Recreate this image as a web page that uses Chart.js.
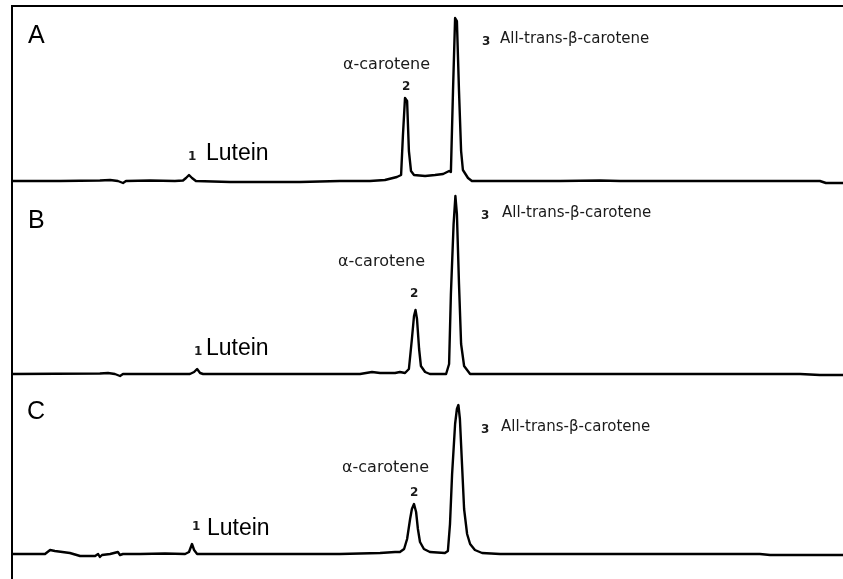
<!DOCTYPE html>
<html>
<head>
<meta charset="utf-8">
<script src="https://cdn.jsdelivr.net/npm/chart.js@4.4.1/dist/chart.umd.min.js"></script>
<style>
  html, body { margin: 0; padding: 0; background: #fff; }
  #wrap { position: relative; width: 843px; height: 579px; overflow: hidden; }
  #frame { position: absolute; left: 11px; top: 5px; width: 840px; height: 580px;
           border-top: 2px solid #000; border-left: 2px solid #000; }
  canvas { position: absolute; left: 12px; }
  .lbl { position: absolute; white-space: nowrap; color: #1a1a1a; line-height: 1; }
</style>
</head>
<body>
<div id="wrap">
  <div id="frame"></div>
  <canvas id="chartA" width="831" height="183" style="top:7px"></canvas>
  <canvas id="chartB" width="831" height="190" style="top:190px"></canvas>
  <canvas id="chartC" width="831" height="199" style="top:380px"></canvas>
</div>
<script>
// ─── CHROMATOGRAM DATA (retention time in min, detector signal in mAU) ───
const timeA = [0, 1.6, 2.93, 3.27, 3.53, 3.7, 3.8, 4.6, 5.43, 5.7, 5.8, 5.9, 6.0, 6.13, 7.27, 9.6,
  10.93, 11.93, 12.43, 12.83, 12.97, 13.03, 13.1, 13.17, 13.23, 13.3, 13.4, 13.77, 14.1, 14.37,
  14.57, 14.63, 14.7, 14.77, 14.83, 14.9, 14.97, 15.03, 15.2, 15.33, 16.93, 18.27, 19.6, 20.27,
  22.93, 26.93, 27.13, 27.7];
const signalA = [0, 0, 0.5, 1, 0, -2, 0, 0.5, 0, 0.5, 3, 6, 3, 0, -1, -1,
  0, 0, 1, 4, 6, 45, 83, 80, 30, 10, 6, 5, 6, 7,
  10, 9, 90, 163, 160, 90, 30, 11, 3, 0, 0, 0, 0.5, 0,
  0, 0, -2, -2];

const timeB = [0, 2.93, 3.2, 3.43, 3.6, 3.7, 3.87, 5.93, 6.07, 6.17, 6.27, 6.37, 9.6, 11.6, 12.0,
  12.27, 12.77, 12.93, 13.1, 13.23, 13.33, 13.4, 13.45, 13.5, 13.57, 13.63, 13.77, 13.93, 14.47,
  14.57, 14.63, 14.72, 14.78, 14.83, 14.9, 14.97, 15.07, 15.27, 19.6, 26.27, 26.93, 27.7];
const signalB = [0, 0.5, 1, 0, -2, 0, 0, 0, 2, 5, 1, 0, 0, 0, 2,
  1, 1, 2, 1, 5, 35, 58, 64, 55, 25, 8, 2, 0, 0,
  10, 80, 150, 178, 160, 90, 30, 8, 0, 0, 0, -1, -1];

const timeC = [0, 1.1, 1.27, 1.43, 1.93, 2.27, 2.77, 2.87, 2.93, 3.0, 3.27, 3.53, 3.6, 3.7, 4.27,
  5.1, 5.77, 5.9, 6.0, 6.07, 6.17, 10.93, 12.27, 12.77, 12.93, 13.07, 13.17, 13.27, 13.33, 13.4,
  13.47, 13.53, 13.6, 13.73, 13.93, 14.43, 14.53, 14.6, 14.67, 14.77, 14.83, 14.88, 14.93, 15.0,
  15.07, 15.17, 15.27, 15.43, 15.67, 16.27, 24.93, 25.27, 27.7];
const signalC = [0, 0, 4, 3, 1, -2, -2, 0, -3, -1, 0, 2, -1, 0, 0,
  0.5, 0, 2, 10, 4, 0, 0, 1, 2, 2, 5, 15, 35, 45, 50,
  42, 25, 12, 5, 2, 1, 3, 30, 80, 130, 145, 149, 135, 90,
  45, 20, 10, 4, 1, 0, 0, -1, -1];

// signal range shown in each panel (mAU)
const rangeA = [-9, 174];
const rangeB = [-6, 184];
const rangeC = [-25, 174];
const runTime = [0, 27.7];

// ─── PEAK LABELS ───
const sans = '"Liberation Sans", Arial, sans-serif';
const verd = '"DejaVu Sans", Verdana, sans-serif';
const labels = [
  { text: 'A', x: 28, base: 43, size: 25, font: sans, color: '#000' },
  { text: '1', x: 188, base: 160, size: 12, font: verd, bold: true },
  { text: 'Lutein', x: 206, base: 160, size: 23, font: sans, color: '#000' },
  { text: 'α-carotene', x: 343, base: 70, size: 16, font: verd },
  { text: '2', x: 402, base: 90, size: 12, font: verd, bold: true },
  { text: '3', x: 482, base: 45, size: 12, font: verd, bold: true },
  { text: 'All-trans-β-carotene', x: 500, base: 44, size: 15, font: verd },

  { text: 'B', x: 28, base: 228, size: 25, font: sans, color: '#000' },
  { text: '1', x: 194, base: 355, size: 12, font: verd, bold: true },
  { text: 'Lutein', x: 206, base: 355, size: 23, font: sans, color: '#000' },
  { text: 'α-carotene', x: 338, base: 267, size: 16, font: verd },
  { text: '2', x: 410, base: 297, size: 12, font: verd, bold: true },
  { text: '3', x: 481, base: 219, size: 12, font: verd, bold: true },
  { text: 'All-trans-β-carotene', x: 502, base: 218, size: 15, font: verd },

  { text: 'C', x: 27, base: 419, size: 25, font: sans, color: '#000' },
  { text: '1', x: 192, base: 530, size: 12, font: verd, bold: true },
  { text: 'Lutein', x: 207, base: 535, size: 23, font: sans, color: '#000' },
  { text: 'α-carotene', x: 342, base: 473, size: 16, font: verd },
  { text: '2', x: 410, base: 496, size: 12, font: verd, bold: true },
  { text: '3', x: 481, base: 433, size: 12, font: verd, bold: true },
  { text: 'All-trans-β-carotene', x: 501, base: 432, size: 15, font: verd }
];

const wrap = document.getElementById('wrap');
labels.forEach(l => {
  const d = document.createElement('div');
  d.className = 'lbl';
  d.textContent = l.text;
  d.style.left = l.x + 'px';
  d.style.top = (l.base - 0.846 * l.size) + 'px';
  d.style.fontSize = l.size + 'px';
  d.style.fontFamily = l.font;
  if (l.bold) d.style.fontWeight = 'bold';
  if (l.color) d.style.color = l.color;
  wrap.appendChild(d);
});

// ─── CREATE ONE CHROMATOGRAM PANEL ───
function makePanel(id, times, signal, range) {
  const ctx = document.getElementById(id).getContext('2d');
  return new Chart(ctx, {
    type: 'line',
    data: {
      datasets: [{
        data: times.map((t, i) => ({ x: t, y: signal[i] })),
        borderColor: '#000',
        borderWidth: 2.4,
        borderJoinStyle: 'round',
        borderCapStyle: 'round',
        pointRadius: 0,
        tension: 0,
        fill: false,
        clip: false
      }]
    },
    options: {
      responsive: false,
      maintainAspectRatio: false,
      devicePixelRatio: 1,
      animation: false,
      layout: { padding: 0 },
      scales: {
        x: { type: 'linear', min: runTime[0], max: runTime[1], display: false },
        y: { min: range[0], max: range[1], display: false }
      },
      plugins: {
        legend: { display: false },
        tooltip: { enabled: false }
      }
    }
  });
}

makePanel('chartA', timeA, signalA, rangeA);
makePanel('chartB', timeB, signalB, rangeB);
makePanel('chartC', timeC, signalC, rangeC);
</script>
</body>
</html>
